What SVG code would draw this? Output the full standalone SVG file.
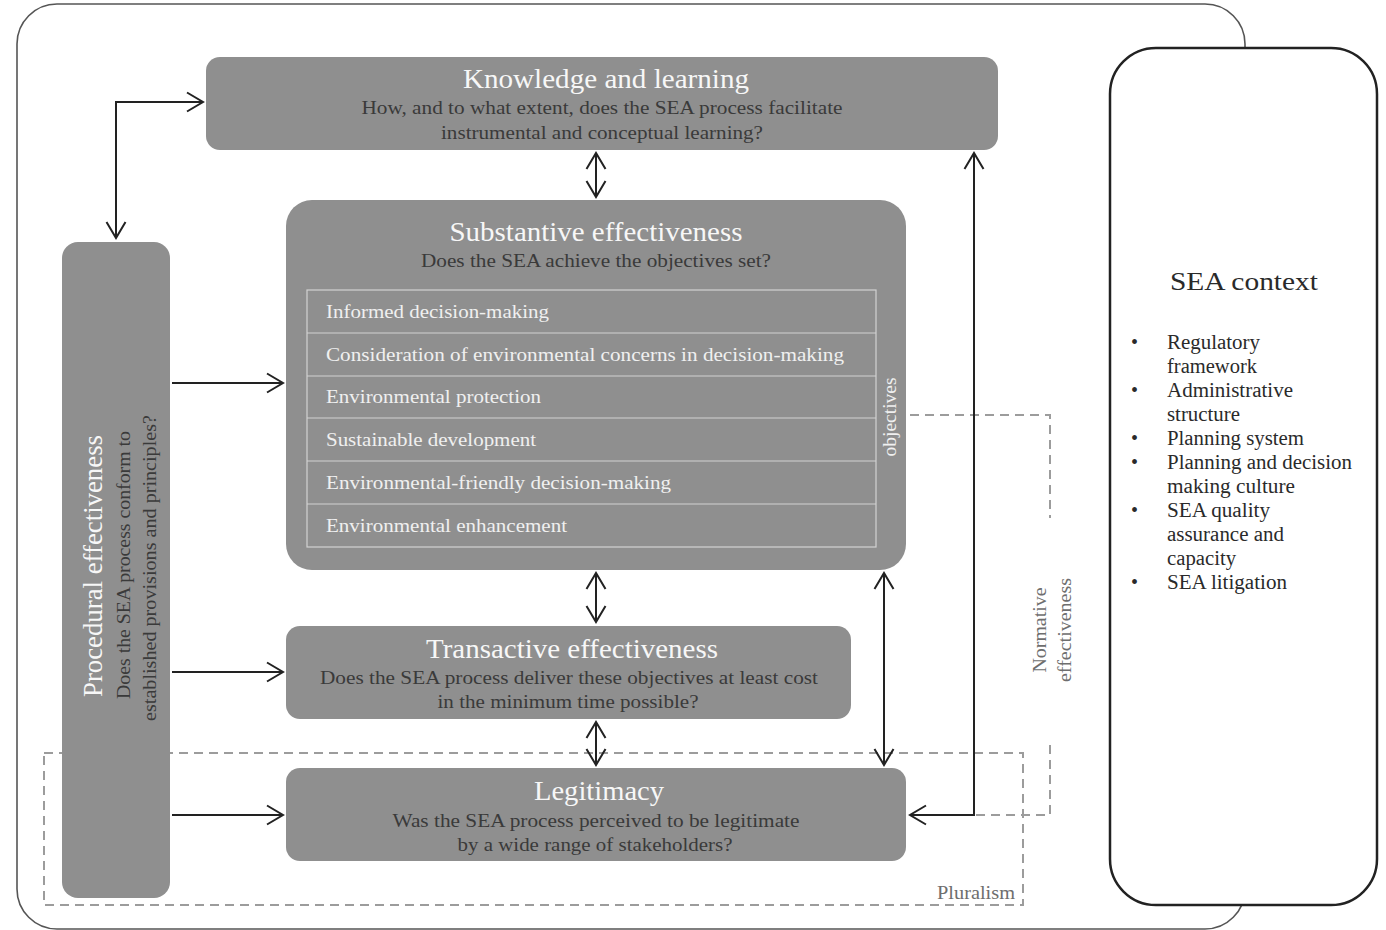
<svg xmlns="http://www.w3.org/2000/svg" width="1386" height="930" viewBox="0 0 1386 930">
<style>
text{font-family:"Liberation Serif","Times New Roman",serif}
.box{fill:#8f8f8f}
.ttl{fill:#f7f7f7;font-size:27px;text-anchor:middle}
.sub{fill:#3a3a3a;font-size:19px;text-anchor:middle}
.row{fill:#f0f0f0;font-size:19px}
.cell{fill:none;stroke:#d2d2d2;stroke-width:1.2}
.con{fill:none;stroke:#222;stroke-width:2}
.dash{fill:none;stroke:#9c9c9c;stroke-width:2;stroke-dasharray:9 6}
.lbl{fill:#6e6e6e;font-size:18px}
.ctx{fill:#2a2a2a;font-size:20px}
</style>
<defs>
<marker id="ah" viewBox="0 0 20 22" refX="18" refY="11" markerWidth="20" markerHeight="22" orient="auto-start-reverse" markerUnits="userSpaceOnUse">
<path d="M2,1.5 L18,11 L2,20.5" fill="none" stroke="#222" stroke-width="2"/>
</marker>
</defs>
<rect width="1386" height="930" fill="#fff"/>
<g id="frame">
<rect x="17" y="4" width="1228" height="925" rx="40" fill="none" stroke="#555" stroke-width="1.6"/>
</g>
<g id="pluralism">
<rect class="dash" x="44" y="753" width="979" height="152"/>
<text class="lbl" x="1015" y="899" text-anchor="end" textLength="78" lengthAdjust="spacingAndGlyphs">Pluralism</text>
</g>
<g id="sea-context">
<rect x="1110" y="48" width="267" height="857" rx="46" fill="#fff" stroke="#222" stroke-width="2.5"/>
<text x="1244" y="290" fill="#2a2a2a" font-size="26" text-anchor="middle" textLength="148" lengthAdjust="spacingAndGlyphs">SEA context</text>
<g class="ctx">
<text x="1131" y="349">•</text><text x="1167" y="349" textLength="93" lengthAdjust="spacingAndGlyphs">Regulatory</text>
<text x="1167" y="373" textLength="90" lengthAdjust="spacingAndGlyphs">framework</text>
<text x="1131" y="397">•</text><text x="1167" y="397" textLength="126" lengthAdjust="spacingAndGlyphs">Administrative</text>
<text x="1167" y="421" textLength="73" lengthAdjust="spacingAndGlyphs">structure</text>
<text x="1131" y="445">•</text><text x="1167" y="445" textLength="137" lengthAdjust="spacingAndGlyphs">Planning system</text>
<text x="1131" y="469">•</text><text x="1167" y="469" textLength="185" lengthAdjust="spacingAndGlyphs">Planning and decision</text>
<text x="1167" y="493" textLength="128" lengthAdjust="spacingAndGlyphs">making culture</text>
<text x="1131" y="517">•</text><text x="1167" y="517" textLength="103" lengthAdjust="spacingAndGlyphs">SEA quality</text>
<text x="1167" y="541" textLength="117" lengthAdjust="spacingAndGlyphs">assurance and</text>
<text x="1167" y="565" textLength="69" lengthAdjust="spacingAndGlyphs">capacity</text>
<text x="1131" y="589">•</text><text x="1167" y="589" textLength="120" lengthAdjust="spacingAndGlyphs">SEA litigation</text>
</g>
</g>
<g id="connectors">
<path class="dash" d="M910,415 H1050 V518"/>
<path class="dash" d="M1050,745 V815 H974"/>
<path class="con" d="M116,238 V102 H203" marker-start="url(#ah)" marker-end="url(#ah)"/>
<path class="con" d="M172,383 H283" marker-end="url(#ah)"/>
<path class="con" d="M172,672 H283" marker-end="url(#ah)"/>
<path class="con" d="M172,815 H283" marker-end="url(#ah)"/>
<path class="con" d="M596,153 V197" marker-start="url(#ah)" marker-end="url(#ah)"/>
<path class="con" d="M596,573 V622" marker-start="url(#ah)" marker-end="url(#ah)"/>
<path class="con" d="M596,722 V765" marker-start="url(#ah)" marker-end="url(#ah)"/>
<path class="con" d="M884,573 V765" marker-start="url(#ah)" marker-end="url(#ah)"/>
<path class="con" d="M910,815 H974 V153" marker-start="url(#ah)" marker-end="url(#ah)"/>
</g>
<g id="normative-label" class="lbl">
<text transform="translate(1046,630) rotate(-90)" text-anchor="middle" textLength="85" lengthAdjust="spacingAndGlyphs">Normative</text>
<text transform="translate(1071,630) rotate(-90)" text-anchor="middle" textLength="104" lengthAdjust="spacingAndGlyphs">effectiveness</text>
</g>
<g id="knowledge">
<rect class="box" x="206" y="57" width="792" height="93" rx="14"/>
<text class="ttl" x="606" y="88" textLength="286" lengthAdjust="spacingAndGlyphs">Knowledge and learning</text>
<text class="sub" x="602" y="114" textLength="481" lengthAdjust="spacingAndGlyphs">How, and to what extent, does the SEA process facilitate</text>
<text class="sub" x="602" y="139" textLength="322" lengthAdjust="spacingAndGlyphs">instrumental and conceptual learning?</text>
</g>
<g id="substantive">
<rect class="box" x="286" y="200" width="620" height="370" rx="26"/>
<text class="ttl" x="596" y="241" textLength="293" lengthAdjust="spacingAndGlyphs">Substantive effectiveness</text>
<text class="sub" x="596" y="267" textLength="350" lengthAdjust="spacingAndGlyphs">Does the SEA achieve the objectives set?</text>
<rect class="cell" x="307" y="290" width="569" height="257"/>
<path class="cell" d="M307,333 H876 M307,376 H876 M307,418 H876 M307,461 H876 M307,504 H876"/>
<text class="row" x="326" y="318" textLength="223" lengthAdjust="spacingAndGlyphs">Informed decision-making</text>
<text class="row" x="326" y="361" textLength="518" lengthAdjust="spacingAndGlyphs">Consideration of environmental concerns in decision-making</text>
<text class="row" x="326" y="403" textLength="215" lengthAdjust="spacingAndGlyphs">Environmental protection</text>
<text class="row" x="326" y="446" textLength="210" lengthAdjust="spacingAndGlyphs">Sustainable development</text>
<text class="row" x="326" y="489" textLength="345" lengthAdjust="spacingAndGlyphs">Environmental-friendly decision-making</text>
<text class="row" x="326" y="532" textLength="241" lengthAdjust="spacingAndGlyphs">Environmental enhancement</text>
<text class="row" transform="translate(896,417) rotate(-90)" text-anchor="middle" textLength="79" lengthAdjust="spacingAndGlyphs">objectives</text>
</g>
<g id="procedural">
<rect class="box" x="62" y="242" width="108" height="656" rx="16"/>
<text class="ttl" transform="translate(102,566) rotate(-90)" textLength="262" lengthAdjust="spacingAndGlyphs">Procedural effectiveness</text>
<text class="sub" transform="translate(130,565) rotate(-90)" textLength="268" lengthAdjust="spacingAndGlyphs">Does the SEA process conform to</text>
<text class="sub" transform="translate(156,568) rotate(-90)" textLength="306" lengthAdjust="spacingAndGlyphs">established provisions and principles?</text>
</g>
<g id="transactive">
<rect class="box" x="286" y="626" width="565" height="93" rx="14"/>
<text class="ttl" x="572" y="658" textLength="292" lengthAdjust="spacingAndGlyphs">Transactive effectiveness</text>
<text class="sub" x="569" y="684" textLength="498" lengthAdjust="spacingAndGlyphs">Does the SEA process deliver these objectives at least cost</text>
<text class="sub" x="568" y="708" textLength="261" lengthAdjust="spacingAndGlyphs">in the minimum time possible?</text>
</g>
<g id="legitimacy">
<rect class="box" x="286" y="768" width="620" height="93" rx="14"/>
<text class="ttl" x="599" y="800" textLength="130" lengthAdjust="spacingAndGlyphs">Legitimacy</text>
<text class="sub" x="596" y="827" textLength="407" lengthAdjust="spacingAndGlyphs">Was the SEA process perceived to be legitimate</text>
<text class="sub" x="595" y="851" textLength="275" lengthAdjust="spacingAndGlyphs">by a wide range of stakeholders?</text>
</g>
</svg>
